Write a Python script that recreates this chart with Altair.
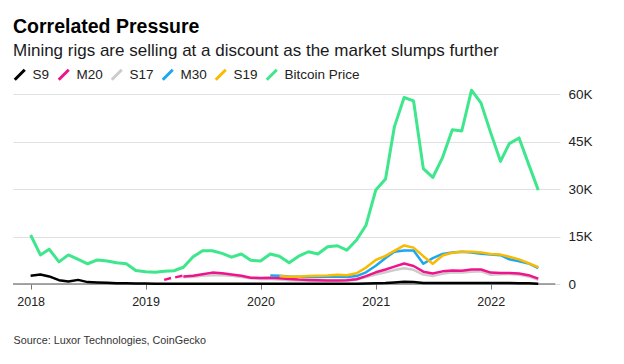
import altair as alt
import pandas as pd

FONT = "Liberation Sans"

# ---- data (thousands of USD), monthly values ----
btc_start = "2018-01-01"
btc = [15.5, 9.2, 11.0, 7.0, 9.2, 7.8, 6.4, 7.6, 7.3, 6.7, 6.4, 4.3,
       3.9, 3.7, 4.0, 4.2, 5.3, 8.6, 10.5, 10.5, 9.7, 8.5, 9.5, 7.5,
       7.3, 9.5, 8.8, 6.7, 8.8, 10.2, 9.5, 11.8, 12.1, 10.7, 13.9, 18.6,
       29.7, 33.2, 49.7, 59.0, 57.9, 36.5, 33.7, 40.0, 48.8, 48.4, 61.3, 57.3,
       47.8, 38.8, 44.4, 46.2, 38.0, 29.7]

s9_start = "2018-01-01"
s9 = [2.6, 3.0, 2.4, 1.2, 0.8, 1.3, 0.6, 0.5, 0.4, 0.25, 0.2, 0.15,
      0.12, 0.1, 0.1, 0.1, 0.1, 0.1, 0.1, 0.1, 0.1, 0.1, 0.1, 0.1,
      0.08, 0.05, 0.05, 0.05, 0.05, 0.05, 0.05, 0.05, 0.05, 0.08, 0.1, 0.15,
      0.2, 0.3, 0.5, 0.7, 0.6, 0.35, 0.3, 0.3, 0.3, 0.3, 0.3, 0.3,
      0.3, 0.3, 0.3, 0.25, 0.2, 0.1]

m20_start = "2019-05-01"
m20 = [2.4, 2.6, 3.1, 3.6, 3.4, 3.0, 2.6, 2.0,
       1.9, 2.0, 1.8, 1.6, 1.4, 1.3, 1.2, 1.1, 1.1, 1.2, 1.5, 2.5,
       3.7, 4.6, 5.5, 6.5, 5.7, 3.9, 3.3, 4.0, 4.3, 4.2, 4.6, 4.6,
       3.6, 3.5, 3.5, 3.3, 2.8, 1.7]
# early, broken (dashed-looking) M20 readings
m20_dash_dates = ["2019-03-01", "2019-03-23", "2019-04-05", "2019-04-28"]
m20_dash_vals = [1.3, 1.9, 2.1, 2.6]
m20_dash_seg = [1, 1, 2, 2]

s17_start = "2019-05-01"
s17 = [2.1, 2.3, 2.6, 2.8, 2.8, 2.6, 2.2, 1.8,
       1.6, 1.6, 1.4, 1.2, 1.1, 1.0, 1.0, 1.0, 1.0, 1.1, 1.4, 2.2,
       3.0, 3.7, 4.4, 5.0, 4.5, 3.0, 2.5, 3.2, 3.7, 3.6, 3.9, 4.0,
       2.9, 3.1, 3.2, 2.9, 2.4, 1.3]

m30_start = "2020-02-01"
m30 = [2.7, 2.6, 2.4, 2.3, 2.2, 2.2, 2.3, 2.3, 2.2, 2.5, 3.7,
       5.8, 8.2, 10.2, 10.6, 10.6, 6.4, 8.2, 9.5, 10.0, 10.2, 10.0, 9.6,
       9.3, 9.1, 7.8, 7.2, 6.5, 5.0]

s19_start = "2020-03-01"
s19 = [2.5, 2.3, 2.3, 2.5, 2.6, 2.7, 2.9, 2.8, 3.4, 5.2,
       7.6, 8.9, 10.5, 12.2, 11.5, 8.8, 6.4, 9.0, 9.9, 10.2, 10.2, 10.0,
       9.5, 9.3, 8.6, 7.8, 6.6, 5.3]

series_order = ["S9", "M20", "S17", "M30", "S19", "Bitcoin Price"]
series_colors = ["#000000", "#f0148c", "#cccccc", "#1ba8f0", "#fbb900", "#3ee68c"]

y_ticks = [0, 15, 30, 45, 60]
x_years = [2018, 2019, 2020, 2021, 2022]


def monthly(start, vals, name, seg=0):
    dates = pd.date_range(start, periods=len(vals), freq="MS")
    return pd.DataFrame({"date": dates.strftime("%Y-%m-%d"), "value": vals,
                         "series": name, "seg": seg})


frames = [
    monthly(btc_start, btc, "Bitcoin Price"),
    monthly(s17_start, s17, "S17"),
    monthly(m20_start, m20, "M20"),
    pd.DataFrame({"date": m20_dash_dates, "value": m20_dash_vals,
                  "series": "M20", "seg": m20_dash_seg}),
    monthly(m30_start, m30, "M30"),
    monthly(s19_start, s19, "S19"),
    monthly(s9_start, s9, "S9"),
]
df = pd.concat(frames, ignore_index=True)

zero_df = pd.DataFrame({"start": ["2017-11-06"], "end": ["2022-07-25"], "zero": [0]})

x_scale = alt.Scale(type="utc", domain=[alt.DateTime(year=2017, month=11, date=6, utc=True),
                                         alt.DateTime(year=2022, month=8, date=9, utc=True)])
x_axis = alt.Axis(
    values=[alt.DateTime(year=y, month=1, date=1, utc=True) for y in x_years],
    format="%Y", grid=False, domain=False, ticks=True, tickSize=5, tickColor="#777",
    labelFontSize=12.5, labelPadding=6, labelColor="#222",
    title="Source: Luxor Technologies, CoinGecko", titleX=0, titleY=59,
    titleAlign="left", titleAnchor="start", titleBaseline="alphabetic",
    titleFontSize=10.8, titleFontWeight="normal", titleColor="#333",
)
y_scale = alt.Scale(domain=[0, 62], nice=False)
y_axis = alt.Axis(
    orient="right", values=y_ticks, grid=True, gridColor="#e0e0e0", gridWidth=1.2,
    ticks=False, domain=False, labelPadding=8, labelFontSize=13.5, labelColor="#222",
    labelExpr="datum.value == 0 ? '0' : datum.value + 'K'", title=None,
)

zero_rule = alt.Chart(zero_df).mark_rule(color="#888888", strokeWidth=1.5).encode(
    x=alt.X("start:T", scale=x_scale, axis=x_axis),
    x2="end:T",
    y=alt.Y("zero:Q", scale=y_scale, axis=y_axis),
)

lines = alt.Chart(df).mark_line(strokeJoin="round").encode(
    x=alt.X("date:T", scale=x_scale, axis=x_axis),
    y=alt.Y("value:Q", scale=y_scale, axis=y_axis),
    color=alt.Color(
        "series:N",
        scale=alt.Scale(domain=series_order, range=series_colors),
        legend=alt.Legend(
            orient="none", legendX=0, legendY=-20, direction="horizontal", title=None,
            symbolType="M-1,1L1,-1", symbolStrokeWidth=3, symbolSize=100,
            labelFontSize=13.5, labelOffset=6, columnPadding=2, labelColor="#222",
            labelFont=FONT, gridAlign="none",
        ),
    ),
    detail="seg:N",
    strokeWidth=alt.condition(alt.datum.series == "Bitcoin Price", alt.value(3), alt.value(2.5)),
)

chart = alt.layer(zero_rule, lines).properties(
    width=547,
    height=196,
    padding={"left": 5, "top": 80, "right": 56, "bottom": 65},
    autosize=alt.AutoSizeParams(type="none"),
    title=alt.TitleParams(
        text="Correlated Pressure",
        subtitle="Mining rigs are selling at a discount as the market slumps further",
        anchor="start", frame="group", offset=8,
        fontSize=19.5, fontWeight="bold", color="#000000", font=FONT,
        subtitleFontSize=17, subtitleColor="#1a1a1a", subtitleFont=FONT, subtitlePadding=6,
    ),
).configure_view(stroke=None).configure_axis(labelFont=FONT, titleFont=FONT)

chart.save("out.html", embed_options={"renderer": "svg", "actions": False})
